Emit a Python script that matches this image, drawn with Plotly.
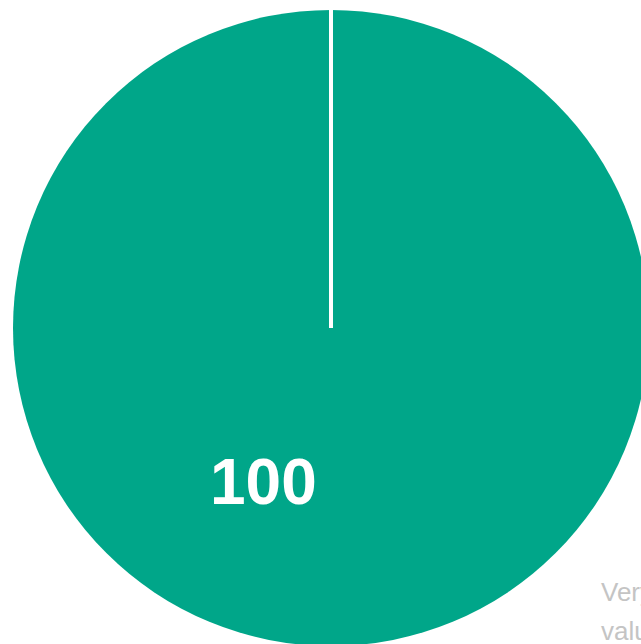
import plotly.graph_objects as go

labels = ["Value"]
values = [100]
slice_color = "#00a689"
note_lines = ["Very high", "value"]

fig = go.Figure()

fig.add_trace(go.Pie(labels=labels, values=values,
                     marker=dict(colors=[slice_color], line=dict(color="white", width=0)),
                     textinfo="none", hoverinfo="label+value",
                     sort=False, direction="clockwise", rotation=90,
                     showlegend=False))

# white seam from centre to top of the circle
fig.add_shape(type="line", xref="paper", yref="paper",
              x0=0.5, y0=0.5, x1=0.5, y1=1.0,
              line=dict(color="white", width=4))

# slice value label
fig.add_annotation(xref="paper", yref="paper", x=0.3956, y=0.2579,
                   text="<b>" + str(values[0]) + "</b>", showarrow=False,
                   font=dict(family="Liberation Sans, Arial", size=64, color="white"),
                   xanchor="center", yanchor="middle")

# side note, cut off by the window edge
for line, ypix in zip(note_lines, [592, 631]):
    fig.add_annotation(xref="paper", yref="paper", x=(599 - 10) / 642, y=1 - (ypix - 10) / 636,
                       text=line, showarrow=False, align="left",
                       font=dict(family="Liberation Sans, Arial", size=26, color="#c4c4c4"),
                       xanchor="left", yanchor="middle")

fig.update_layout(width=662, height=656,
                  margin=dict(l=10, r=10, t=10, b=10),
                  paper_bgcolor="white", plot_bgcolor="white")

fig.write_html("out.html", config={"displayModeBar": False},
               post_script="document.body.style.margin='0';document.body.style.overflow='hidden';")
